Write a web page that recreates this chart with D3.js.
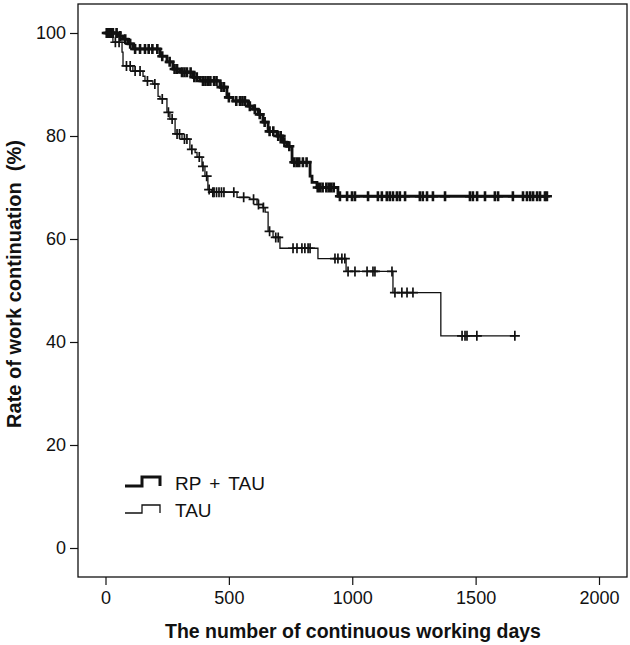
<!DOCTYPE html>
<html>
<head>
<meta charset="utf-8">
<script src="https://cdn.jsdelivr.net/npm/d3@7"></script>
<style>
  html, body { margin: 0; padding: 0; background: #fff; }
  svg { display: block; }
  text { font-family: "Liberation Sans", Arial, sans-serif; fill: #111; }
</style>
</head>
<body>
<svg id="chart" width="630" height="645"></svg>
<script>
// ---- Data ----
const seriesNames = ["RP + TAU", "TAU"];

// RP + TAU: event days and survival (%) after each event
const rpDays = [0, 51, 71, 91, 111, 221, 249, 273, 302, 355, 383, 464, 492, 517, 577, 598, 618, 638, 659, 695, 719, 735, 756, 829, 837, 857, 942];
const rpSurv = [100, 99.4, 98.8, 97.9, 96.9, 95.5, 94.4, 93.0, 92.4, 91.4, 90.7, 89.5, 87.5, 86.8, 85.8, 85.2, 84.2, 82.7, 80.9, 80.0, 78.8, 78.0, 74.9, 72.2, 71.0, 70.0, 68.3];
const rpEnd = 1793;
const rpCensor = [5, 10, 15, 20, 25, 30, 45, 60, 80, 100, 120, 140, 160, 175, 190, 210, 230, 260, 280, 290, 310, 320, 330, 345, 360, 370, 395, 405, 415, 425, 440, 450, 470, 480, 500, 530, 545, 555, 565, 585, 605, 625, 645, 665, 680, 700, 710, 725, 745, 765, 775, 785, 800, 815, 860, 870, 880, 895, 905, 915, 925,
  950, 979, 999, 1011, 1064, 1104, 1120, 1140, 1152, 1165, 1181, 1193, 1214, 1274, 1286, 1303, 1327, 1376, 1477, 1489, 1506, 1538, 1578, 1591, 1651, 1692, 1708, 1721, 1733, 1749, 1761, 1781, 1789];

// TAU
const tauDays = [0, 30, 67, 71, 111, 152, 160, 192, 213, 221, 249, 261, 282, 310, 342, 363, 371, 391, 403, 415, 431, 533, 585, 614, 638, 647, 659, 679, 707, 861, 975, 1165, 1359];
const tauSurv = [100, 98.2, 96.3, 93.6, 92.6, 91.6, 90.7, 90.1, 87.7, 87.2, 84.6, 83.3, 80.4, 79.4, 77.4, 76.8, 75.9, 74.1, 72.2, 69.6, 69.1, 68.1, 67.7, 66.7, 66.1, 65.2, 61.5, 60.3, 58.2, 56.2, 53.7, 49.6, 41.2];
const tauEnd = 1662;
const tauCensor = [8, 20, 40, 55, 85, 100, 120, 140, 170, 200, 230, 255, 270, 290, 300, 320, 330, 350, 380, 395, 410, 420, 435, 440, 450, 460, 470, 480, 520, 560, 600, 620, 640, 665, 690, 700,
  760, 776, 796, 808, 821, 829, 930, 942, 958, 970, 983, 1011, 1060, 1084, 1092, 1161, 1173, 1201, 1222, 1246, 1445, 1457, 1465, 1505, 1659];

const xTicks = [0, 500, 1000, 1500, 2000];
const yTicks = [0, 20, 40, 60, 80, 100];
const xTitle = "The number of continuous working days";
const yTitle = "Rate of work continuation  (%)";

// ---- Layout ----
const frame = { left: 78, right: 627, top: 4, bottom: 577 };
const svg = d3.select("#chart");
const x = d3.scaleLinear().domain([0, 2000]).range([105.5, 599]);
const y = d3.scaleLinear().domain([0, 100]).range([548, 33]);
const fontFam = '"Liberation Sans", Arial, sans-serif';

// frame
svg.append("rect")
  .attr("x", frame.left).attr("y", frame.top)
  .attr("width", frame.right - frame.left).attr("height", frame.bottom - frame.top)
  .attr("fill", "none").attr("stroke", "#111").attr("stroke-width", 1.3);

// x axis
const xAxis = d3.axisBottom(x).tickValues(xTicks).tickSize(8).tickPadding(6).tickFormat(d3.format("d"));
const gx = svg.append("g").attr("transform", `translate(0,${frame.bottom})`).call(xAxis);
gx.select(".domain").remove();
gx.selectAll("line").attr("stroke", "#111").attr("stroke-width", 1.2);
gx.selectAll("text").attr("font-size", 18).attr("fill", "#111").style("font-family", fontFam);

// y axis
const yAxis = d3.axisLeft(y).tickValues(yTicks).tickSize(8).tickPadding(4).tickFormat(d3.format("d"));
const gy = svg.append("g").attr("transform", `translate(${frame.left},0)`).call(yAxis);
gy.select(".domain").remove();
gy.selectAll("line").attr("stroke", "#111").attr("stroke-width", 1.2);
gy.selectAll("text").attr("font-size", 18).attr("fill", "#111").style("font-family", fontFam);

// titles
svg.append("text").attr("x", 353).attr("y", 638).attr("text-anchor", "middle")
  .attr("font-size", 19.5).attr("font-weight", "bold").text(xTitle);
svg.append("text").attr("transform", "translate(21,284) rotate(-90)").attr("text-anchor", "middle")
  .attr("font-size", 20).attr("font-weight", "bold").style("white-space", "pre")
  .attr("xml:space", "preserve").text(yTitle);

// ---- KM curves ----
function stepPoints(days, surv, end) {
  const pts = days.map((d, i) => [d, surv[i]]);
  pts.push([end, surv[surv.length - 1]]);
  return pts;
}
function survAt(days, surv, t) {
  let s = surv[0];
  for (let i = 0; i < days.length; i++) { if (days[i] <= t) s = surv[i]; }
  return s;
}
const line = d3.line().x(d => x(d[0])).y(d => y(d[1])).curve(d3.curveStepAfter);

function drawSeries(days, surv, end, censor, lw, markLw, markSize) {
  const g = svg.append("g");
  g.append("path").datum(stepPoints(days, surv, end))
    .attr("d", line).attr("fill", "none").attr("stroke", "#111")
    .attr("stroke-width", lw).attr("stroke-linejoin", "miter");
  const h = markSize / 2;
  g.selectAll("path.mark").data(censor).join("path").attr("class", "mark")
    .attr("d", t => {
      const cx = x(t), cy = y(survAt(days, surv, t));
      return `M${cx - h},${cy}H${cx + h}M${cx},${cy - h}V${cy + h}`;
    })
    .attr("stroke", "#111").attr("stroke-width", markLw).attr("fill", "none");
}
drawSeries(tauDays, tauSurv, tauEnd, tauCensor, 1.3, 1.7, 10);
drawSeries(rpDays, rpSurv, rpEnd, rpCensor, 2.8, 2.6, 10);

// ---- Legend ----
const legend = [
  { name: seriesNames[0], lw: 3, yLow: 486, yHigh: 477, ty: 490 },
  { name: seriesNames[1], lw: 1.3, yLow: 513, yHigh: 505, ty: 517 }
];
legend.forEach(l => {
  svg.append("path")
    .attr("d", `M125,${l.yLow}H142V${l.yHigh}H160V${l.yLow}`)
    .attr("fill", "none").attr("stroke", "#111").attr("stroke-width", l.lw);
  svg.append("text").attr("x", 175).attr("y", l.ty).attr("font-size", 19)
    .attr("word-spacing", 3).text(l.name);
});
</script>
</body>
</html>
